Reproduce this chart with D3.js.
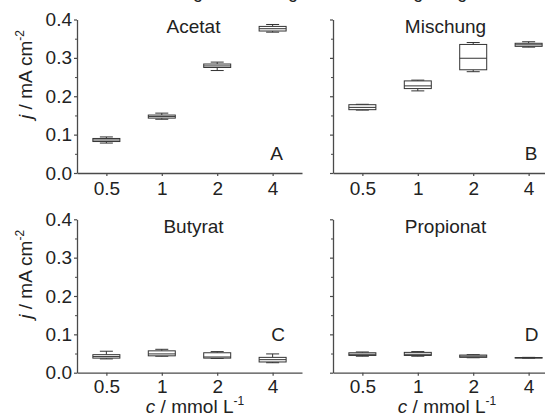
<!DOCTYPE html>
<html>
<head>
<meta charset="utf-8">
<script src="https://cdn.jsdelivr.net/npm/d3@7"></script>
<style>
  html, body { margin: 0; padding: 0; background: #fff; }
  svg { display: block; font-family: Arial, "Liberation Sans", sans-serif; }
</style>
</head>
<body>
<svg id="chart" width="545" height="414"></svg>
<script>
// ---- data ----
const concentrations = ["0.5", "1", "2", "4"];
const yTicks = [0.0, 0.1, 0.2, 0.3, 0.4];
const yMinorTicks = [0.05, 0.15, 0.25, 0.35];
const panelNames = ["Acetat", "Mischung", "Butyrat", "Propionat"];
const panelLetters = ["A", "B", "C", "D"];
// each box: [whisker low, q1, median, q3, whisker high] in mA cm^-2
const acetat    = [[0.078, 0.082, 0.086, 0.090, 0.094], [0.140, 0.143, 0.147, 0.151, 0.156], [0.267, 0.275, 0.279, 0.284, 0.289], [0.367, 0.370, 0.376, 0.382, 0.387]];
const mischung  = [[0.164, 0.165, 0.171, 0.178, 0.179], [0.214, 0.220, 0.227, 0.240, 0.242], [0.264, 0.269, 0.299, 0.335, 0.340], [0.328, 0.330, 0.334, 0.338, 0.342]];
const butyrat   = [[0.036, 0.038, 0.042, 0.047, 0.056], [0.043, 0.044, 0.049, 0.057, 0.061], [0.037, 0.038, 0.041, 0.052, 0.055], [0.026, 0.028, 0.034, 0.040, 0.049]];
const propionat = [[0.043, 0.045, 0.048, 0.052, 0.054], [0.043, 0.045, 0.048, 0.053, 0.055], [0.039, 0.040, 0.043, 0.046, 0.047], [0.038, 0.0385, 0.039, 0.0395, 0.040]];
const seriesList = [acetat, mischung, butyrat, propionat];

// ---- layout ----
const svg = d3.select("#chart");
const plotW = 225;
const panels = [
  { x0: 77,  yTop: 19.5,  yBot: 173,   titleX: 193.5, left: true,  bottom: false, letterX: 283, letterY: 160, tickPad: 6 },
  { x0: 333, yTop: 19.5,  yBot: 173,   titleX: 445.5, left: false, bottom: false, letterX: 537.5, letterY: 160, tickPad: 6 },
  { x0: 77,  yTop: 219.3, yBot: 372.7, titleX: 193.5, left: true,  bottom: true, letterX: 285, letterY: 341, tickPad: 4 },
  { x0: 333, yTop: 219.3, yBot: 372.7, titleX: 445.5, left: false, bottom: true, letterX: 538.5, letterY: 341, tickPad: 4 }
];
const axisColor = "#4a4a4a";
const boxColor = "#333";
const fontSize = 19;

// clipped heading above the panels (only descenders visible)
svg.append("text")
  .attr("x", 130).attr("y", -2.2)
  .attr("font-size", 18).attr("fill", "#222")
  .text("Messung der Lösung unter Stromregelung");

panels.forEach((p, i) => {
  const data = seriesList[i];
  const x = d3.scalePoint().domain(concentrations).range([p.x0, p.x0 + plotW]).padding(0.53);
  const y = d3.scaleLinear().domain([0, 0.4]).range([p.yBot, p.yTop]);
  const g = svg.append("g");

  // minor y ticks
  g.append("g")
    .attr("transform", `translate(${p.x0},0)`)
    .call(d3.axisLeft(y).tickValues(yMinorTicks).tickSize(2).tickFormat(""))
    .call(a => a.select(".domain").remove())
    .call(a => a.selectAll("line").attr("stroke", axisColor));

  // major y axis
  const ya = g.append("g")
    .attr("transform", `translate(${p.x0},0)`)
    .call(d3.axisLeft(y).tickValues(yTicks).tickSize(3).tickSizeOuter(0).tickPadding(2)
      .tickFormat(p.left ? d3.format(".1f") : () => ""));
  ya.select(".domain").attr("stroke", axisColor).attr("stroke-width", 1.3);
  ya.selectAll("line").attr("stroke", axisColor).attr("stroke-width", 1.2);
  ya.selectAll("text").attr("font-size", fontSize).attr("fill", "#222").attr("font-family", "Arial, 'Liberation Sans', sans-serif");

  // x axis
  const xa = g.append("g")
    .attr("transform", `translate(0,${p.yBot})`)
    .call(d3.axisBottom(x).tickSize(3).tickSizeOuter(0).tickPadding(p.tickPad));
  xa.select(".domain").attr("stroke", axisColor).attr("stroke-width", 1.3);
  xa.selectAll("line").attr("stroke", axisColor).attr("stroke-width", 1.2);
  xa.selectAll("text").attr("font-size", fontSize).attr("fill", "#222").attr("font-family", "Arial, 'Liberation Sans', sans-serif");

  // boxes
  const boxW = 27, capW = 13;
  const bx = g.selectAll("g.box").data(data).join("g").attr("class", "box")
    .attr("transform", (d, j) => `translate(${x(concentrations[j])},0)`);
  bx.append("line").attr("x1", 0).attr("x2", 0)
    .attr("y1", d => y(d[4])).attr("y2", d => y(d[3]))
    .attr("stroke", boxColor).attr("stroke-width", 1);
  bx.append("line").attr("x1", 0).attr("x2", 0)
    .attr("y1", d => y(d[1])).attr("y2", d => y(d[0]))
    .attr("stroke", boxColor).attr("stroke-width", 1);
  bx.append("line").attr("x1", -capW / 2).attr("x2", capW / 2)
    .attr("y1", d => y(d[4])).attr("y2", d => y(d[4]))
    .attr("stroke", boxColor).attr("stroke-width", 1);
  bx.append("line").attr("x1", -capW / 2).attr("x2", capW / 2)
    .attr("y1", d => y(d[0])).attr("y2", d => y(d[0]))
    .attr("stroke", boxColor).attr("stroke-width", 1);
  bx.append("rect").attr("x", -boxW / 2).attr("width", boxW)
    .attr("y", d => y(d[3])).attr("height", d => Math.max(0.5, y(d[1]) - y(d[3])))
    .attr("fill", "#fff").attr("stroke", boxColor).attr("stroke-width", 1);
  bx.append("line").attr("x1", -boxW / 2).attr("x2", boxW / 2)
    .attr("y1", d => y(d[2])).attr("y2", d => y(d[2]))
    .attr("stroke", boxColor).attr("stroke-width", 1);

  // panel title
  g.append("text")
    .attr("x", p.titleX).attr("y", p.yTop + 13.8)
    .attr("text-anchor", "middle").attr("font-size", fontSize).attr("fill", "#222")
    .text(panelNames[i]);

  // panel letter
  g.append("text")
    .attr("x", p.letterX).attr("y", p.letterY)
    .attr("text-anchor", "end").attr("font-size", fontSize).attr("fill", "#222")
    .text(panelLetters[i]);

  // y axis title
  if (p.left) {
    const t = g.append("text")
      .attr("transform", `translate(32,${p.yTop + 55}) rotate(-90)`)
      .attr("text-anchor", "middle").attr("font-size", fontSize).attr("fill", "#222");
    t.append("tspan").attr("font-style", "italic").text("j");
    t.append("tspan").text(" / mA cm");
    t.append("tspan").attr("font-size", 12).attr("dy", -8).text("-2");
  }

  // x axis title
  if (p.bottom) {
    const t = g.append("text")
      .attr("x", p.titleX + 1.5).attr("y", 412.5)
      .attr("text-anchor", "middle").attr("font-size", fontSize).attr("fill", "#222");
    t.append("tspan").attr("font-style", "italic").text("c");
    t.append("tspan").text(" / mmol L");
    t.append("tspan").attr("font-size", 12).attr("dy", -8).text("-1");
  }
});
</script>
</body>
</html>
